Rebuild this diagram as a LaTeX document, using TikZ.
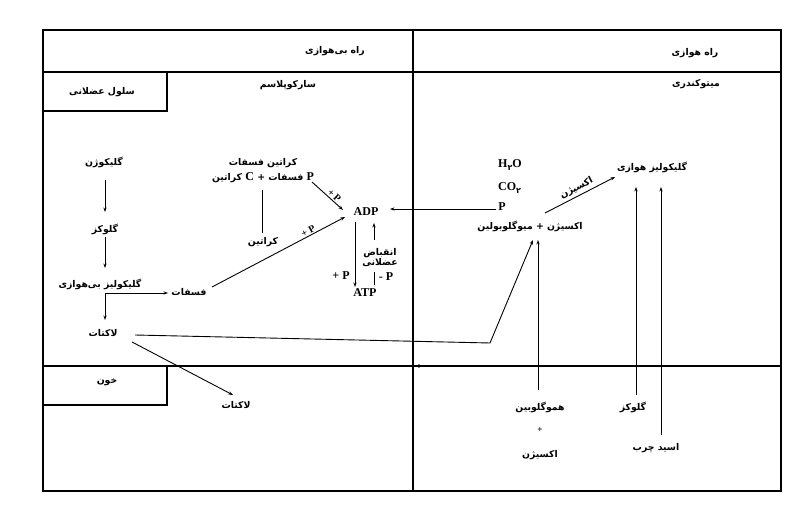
\documentclass[tikz,border=0pt]{standalone}
\usepackage{fontspec}
\setmainfont{Liberation Serif}
\newfontfamily\fa[Script=Arabic]{DejaVu Sans}
\TeXXeTstate=1
\usetikzlibrary{arrows.meta,calc}
\newcommand\fat[1]{{\fa\bfseries\beginR #1\endR}}
\newcommand\lat[1]{{\rmfamily\bfseries\fontsize{12}{13}\selectfont #1}}
\begin{document}
\begin{tikzpicture}[x=1pt,y=-1pt,
  fa/.style={inner sep=1pt, font=\fontsize{9.3}{11}\selectfont},
  la/.style={inner sep=1pt, font=\fontsize{12}{13}\selectfont\bfseries},
  sl/.style={inner sep=1pt, font=\fontsize{10}{11}\selectfont\bfseries},
  arr/.style={-{Stealth[length=4.5pt,width=3.2pt]}, line width=0.9pt},
  ln/.style={line width=0.9pt},
  frame/.style={line width=1.3pt}]
\useasboundingbox (0,0) rectangle (790,521);
% frame
\draw[frame] (43,30) rectangle (781,491);
\draw[frame] (43,72) -- (781,72);
\draw[frame] (413,30) -- (413,491);
\draw[frame] (167,72) -- (167,111) -- (43,111);
\draw[frame] (43,366) -- (781,366);
\draw[frame] (167,366) -- (167,405) -- (43,405);
\node[circle, fill, inner sep=1.3pt] (dot) at (419,366) {};
% headers
\node[fa] (anaer) at (335,51) {\fat{راه بی‌هوازی}};
\node[fa] (aer) at (695,53) {\fat{راه هوازی}};
\node[fa] (cell) at (102,92) {\fat{سلول عضلانی}};
\node[fa] (sarco) at (288,85) {\fat{سارکوپلاسم}};
\node[fa] (mito) at (696,84) {\fat{میتوکندری}};
\node[fa] (blood) at (107,382) {\fat{خون}};
% left column
\node[fa] (glycogen) at (104,162) {\fat{گلیکوژن}};
\node[fa] (glucose) at (105,229) {\fat{گلوکز}};
\node[fa] (glyan) at (100,284) {\fat{گلیکولیز بی‌هوازی}};
\node[fa] (phos) at (189,292) {\fat{فسفات}};
\node[fa] (lac) at (103,333) {\fat{لاکتات}};
\node[fa] (lacb) at (236,405) {\fat{لاکتات}};
% creatine phosphate
\node[fa] (cpname) at (263,163) {\fat{کراتین فسفات}};
\node[fa] (cp) at (263,178) {\fat{\lat{P} فسفات + \lat{C} کراتین}};
\node[fa] (cr) at (263,242) {\fat{کراتین}};
% ADP / ATP
\node[la] (adp) at (366,212) {ADP};
\node[la] (atp) at (365,293) {ATP};
\node[la] (plusp) at (341,276) {+ P};
\node[fa, align=center] (contr) at (380,258) {\fat{انقباض}\\[-1pt]\fat{عضلانی}};
\node[la] (minusp) at (386,277) {- P};
% mitochondria
\node[la, anchor=west] (h2o) at (497,165) {H\raisebox{-0.6ex}{\fa\fontsize{8}{9}\selectfont ۲}O};
\node[la, anchor=west] (co2) at (497,188) {CO\raisebox{-0.6ex}{\fa\fontsize{8}{9}\selectfont ۲}};
\node[la] (pm) at (502,207) {P};
\node[fa] (oxymyo) at (530,226) {\fat{اکسیژن + میوگلوبولین}};
\node[fa] (glyae) at (652,167) {\fat{گلیکولیز هوازی}};
\node[fa] (glucr) at (633,407) {\fat{گلوکز}};
\node[fa] (fatty) at (656,448) {\fat{اسید چرب}};
\node[fa] (hb) at (540,407) {\fat{هموگلوبین}};
\node[la] (hbplus) at (540,430) {\fontsize{9}{10}\selectfont +};
\node[fa] (oxy) at (540,455) {\fat{اکسیژن}};
% connectors
\draw[arr] ($(glycogen)+(1,18)$) -- ($(glucose)+(0,-17)$);
\draw[arr] ($(glucose)+(0,8)$) -- ($(glyan)+(5,-16)$);
\coordinate (fork) at ($(glyan)+(5,9)$);
\draw[arr] (fork) -- ($(phos)+(-21,1)$);
\draw[arr] (fork) -- ($(lac)+(2,-13)$);
\draw[arr] ($(phos)+(23,-5)$) -- ($(adp)+(-21,5)$)
  node[pos=0.74, above, sloped, sl] (pl1) {+ P};
\draw[arr] ($(cp)+(49,4)$) -- ($(adp)+(-23,-2)$)
  node[pos=0.62, above, sloped, sl] (pl2) {+ P};
\draw[ln] ($(cp)+(-1,12)$) -- ($(cr)+(-1,-9)$);
\draw[arr] ($(adp)+(-11,10)$) -- ($(atp)+(-10,-6)$);
\draw[ln] ($(atp)+(9,-8)$) -- ($(atp)+(9,-21)$);
\draw[arr] ($(adp)+(8,28)$) -- ($(adp)+(8,11)$);
\draw[arr] ($(pm)+(-6,2)$) -- ($(adp)+(24,-3)$);
\draw[arr] ($(lac)+(32,2)$) -- (490,343) -- ($(oxymyo)+(3,14)$);
\draw[arr] ($(lac)+(29,9)$) -- ($(lacb)+(-3,-10)$);
\draw[arr] ($(hb)+(-2,-17)$) -- ($(oxymyo)+(8,14)$);
\draw[arr] ($(oxymyo)+(15,-13)$) -- ($(glyae)+(-37,10)$)
  node[pos=0.5, above, sloped, fa, yshift=1.5pt] (oxl) {\fat{اکسیژن}};
\draw[arr] ($(glucr)+(3,-12)$) -- ($(glyae)+(-16,20)$);
\draw[arr] ($(fatty)+(5,-13)$) -- ($(glyae)+(9,20)$);
\end{tikzpicture}
\end{document}
